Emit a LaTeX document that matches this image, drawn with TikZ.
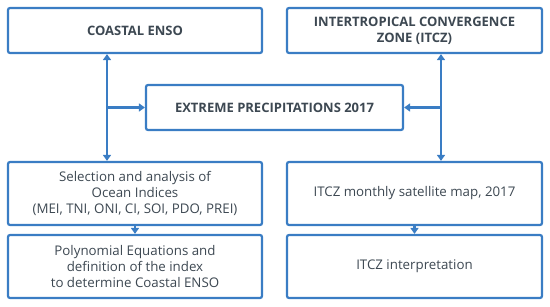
\documentclass[tikz,border=0pt]{standalone}
\usepackage{fontspec}
\setmainfont{Open Sans}
\usetikzlibrary{arrows.meta}
\definecolor{bl}{HTML}{3A7DC4}
\definecolor{tx}{HTML}{3D4852}
\tikzset{
  box/.style={draw=bl, line width=2.2pt, rounded corners=2pt, fill=white, text=tx,
    align=center, inner sep=0pt, font=\fontsize{13.3}{16}\selectfont},
  title/.style={font=\fontsize{13}{16}\selectfont\bfseries},
  conn/.style={draw=bl, line width=2.2pt, -{Triangle[length=6pt,width=8pt]}},
}
\begin{document}
\begin{tikzpicture}[x=1pt,y=-1pt]
\useasboundingbox (0,0) rectangle (550,307);
\node[box,title,minimum width=254pt,minimum height=45pt] (coastal) at (135,30.5) {COASTAL ENSO};
\node[box,title,minimum width=255pt,minimum height=45pt] (itcz) at (414.5,30.5) {INTERTROPICAL CONVERGENCE\\ZONE (ITCZ)};
\node[box,title,minimum width=257pt,minimum height=45pt] (extreme) at (274.5,107.5) {EXTREME PRECIPITATIONS 2017};
\node[box,minimum width=254pt,minimum height=63pt] (sel) at (135,193.5) {Selection and analysis of\\Ocean Indices\\(MEI, TNI, ONI, CI, SOI, PDO, PREI)};
\node[box,minimum width=254pt,minimum height=63pt] (poly) at (135,266.5) {Polynomial Equations and\\definition of the index\\to determine Coastal ENSO};
\node[box,minimum width=255pt,minimum height=63pt] (map) at (414.5,193.5) {ITCZ monthly satellite map, 2017};
\node[box,minimum width=255pt,minimum height=63pt] (interp) at (414.5,266.5) {ITCZ interpretation};
\coordinate (jl) at (107,107.5);
\coordinate (jr) at (441,107.5);
\draw[conn] (jl) -- (jl |- coastal.south);
\draw[conn] (jl) -- (jl |- sel.north);
\draw[conn] (jl) -- (extreme.west);
\draw[conn] (jr) -- (jr |- itcz.south);
\draw[conn] (jr) -- (jr |- map.north);
\draw[conn] (jr) -- (extreme.east);
\draw[conn] (sel.south) -- (poly.north);
\draw[conn] (map.south) -- (interp.north);
\end{tikzpicture}
\end{document}
